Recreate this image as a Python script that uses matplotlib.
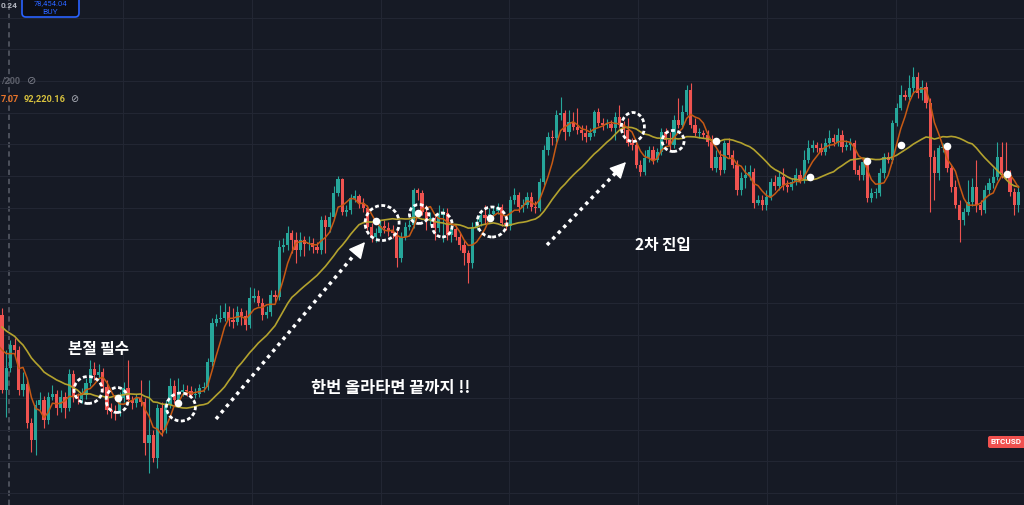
import matplotlib
matplotlib.use('Agg')
import matplotlib.pyplot as plt
from matplotlib.patches import Ellipse, FancyBboxPatch
from matplotlib.transforms import IdentityTransform
import numpy as np
import pandas as pd

# closes before the first visible candle (only used to warm up the moving averages)
history_close = [710, 708, 705, 702, 698, 700, 695, 690, 685, 682,
                 660, 655, 645, 640, 635, 650, 655, 650, 685]

close = [610, 632, 655, 650, 610, 616, 577, 560, 595, 600,
         580, 603, 606, 592, 603, 592, 626, 603, 601, 605,
         617, 631, 625, 628, 613, 590, 588, 587, 602, 612,
         600, 597, 602, 598, 557, 565, 542, 592, 570, 595,
         614, 600, 608, 610, 609, 605, 606, 612, 613, 638,
         677, 681, 682, 688, 680, 678, 688, 684, 675, 702,
         704, 697, 685, 688, 705, 703, 753, 755, 767, 760,
         750, 760, 756, 757, 753, 750, 780, 773, 783, 807,
         821, 788, 790, 802, 804, 797, 792, 773, 763, 767,
         774, 772, 769, 767, 742, 763, 773, 775, 810, 807,
         788, 780, 782, 772, 785, 787, 765, 771, 763, 755,
         747, 737, 773, 778, 785, 782, 786, 789, 793, 777,
         774, 800, 805, 793, 795, 803, 793, 792, 818, 850,
         863, 862, 885, 887, 868, 878, 873, 870, 867, 863,
         867, 888, 877, 875, 876, 872, 883, 875, 870, 857,
         855, 835, 828, 842, 850, 840, 848, 868, 860, 855,
         880, 875, 888, 910, 875, 867, 867, 865, 858, 832,
         843, 830, 857, 845, 835, 810, 822, 825, 828, 797,
         800, 795, 803, 818, 814, 823, 815, 813, 818, 825,
         820, 840, 852, 855, 852, 848, 857, 862, 858, 865,
         853, 855, 857, 830, 825, 838, 802, 807, 807, 827,
         843, 840, 877, 892, 905, 903, 912, 923, 907, 913,
         897, 843, 827, 852, 852, 832, 813, 795, 780, 788,
         798, 813, 795, 790, 810, 817, 823, 843, 827, 825,
         808, 795, 808]

high = [692, 650, 660, 662, 654, 628, 622, 582, 600, 608,
        604, 608, 615, 610, 610, 608, 631, 630, 607, 612,
        622, 640, 638, 636, 632, 620, 597, 595, 608, 618,
        640, 604, 606, 620, 602, 620, 570, 596, 598, 600,
        622, 620, 622, 616, 615, 614, 612, 616, 618, 642,
        682, 686, 695, 697, 694, 692, 694, 692, 690, 713,
        712, 710, 702, 694, 710, 710, 760, 762, 774, 770,
        768, 768, 764, 764, 762, 758, 784, 785, 788, 814,
        824, 822, 795, 806, 810, 806, 802, 795, 777, 772,
        780, 780, 778, 775, 770, 768, 778, 780, 812, 812,
        810, 795, 788, 786, 795, 792, 792, 778, 775, 768,
        760, 750, 778, 782, 790, 795, 792, 794, 797, 796,
        782, 804, 812, 808, 801, 808, 808, 799, 822, 855,
        868, 870, 890, 903, 890, 890, 888, 892, 875, 875,
        872, 890, 892, 882, 881, 880, 888, 895, 879, 882,
        862, 860, 840, 850, 854, 854, 852, 872, 872, 868,
        885, 902, 895, 915, 917, 882, 872, 870, 870, 865,
        850, 850, 860, 862, 850, 840, 828, 835, 835, 832,
        805, 805, 810, 822, 825, 828, 832, 820, 822, 832,
        830, 850, 860, 860, 858, 857, 862, 870, 866, 872,
        870, 860, 862, 860, 835, 842, 842, 812, 812, 832,
        847, 848, 880, 897, 915, 910, 925, 933, 928, 920,
        918, 902, 850, 855, 857, 855, 835, 820, 800, 792,
        820, 822, 840, 800, 815, 822, 832, 858, 858, 858,
        830, 812, 815]

low = [607, 583, 628, 644, 605, 604, 572, 548, 545, 590,
       572, 576, 600, 585, 588, 582, 589, 598, 596, 597,
       601, 614, 620, 621, 608, 586, 582, 580, 584, 598,
       596, 591, 593, 594, 545, 527, 538, 532, 564, 567,
       592, 597, 598, 604, 604, 602, 602, 603, 608, 610,
       634, 674, 678, 679, 674, 672, 675, 675, 670, 672,
       698, 694, 680, 682, 684, 698, 700, 748, 750, 747,
       737, 744, 744, 750, 747, 747, 746, 747, 768, 780,
       804, 785, 784, 786, 798, 792, 788, 770, 758, 758,
       764, 767, 764, 762, 733, 738, 760, 770, 772, 800,
       785, 770, 775, 760, 768, 758, 760, 758, 760, 750,
       735, 717, 732, 770, 774, 776, 778, 782, 786, 774,
       770, 770, 796, 788, 788, 792, 789, 787, 789, 815,
       845, 855, 858, 880, 860, 864, 870, 866, 860, 858,
       860, 864, 874, 870, 872, 869, 860, 872, 865, 854,
       850, 832, 824, 825, 838, 836, 838, 845, 857, 850,
       852, 872, 872, 885, 872, 864, 862, 862, 854, 830,
       828, 825, 827, 842, 832, 805, 805, 812, 820, 792,
       795, 790, 790, 800, 810, 810, 810, 808, 810, 815,
       817, 817, 837, 848, 848, 845, 845, 852, 854, 854,
       848, 850, 850, 826, 820, 820, 798, 798, 802, 804,
       822, 837, 837, 874, 890, 900, 900, 908, 902, 900,
       892, 788, 800, 820, 848, 828, 808, 792, 758, 775,
       785, 794, 788, 785, 787, 805, 812, 820, 822, 820,
       804, 785, 788]

BG = '#161a25'
UP = '#26a69a'
DOWN = '#ef5350'
KR = ['Noto Sans CJK KR', 'DejaVu Sans']

n = len(close)
x = np.arange(n)
c = np.array(close, dtype=float)
o = np.concatenate([[history_close[-1]], c[:-1]])
h = np.array(high, dtype=float)
l = np.array(low, dtype=float)
up = c >= o
colors = np.where(up, UP, DOWN)

allc = pd.Series(history_close + close, dtype=float)
xa = np.arange(-len(history_close), n)
ma_fast = allc.rolling(5).mean()
ma_slow = allc.rolling(20).mean()

fig = plt.figure(figsize=(10.24, 5.05), dpi=100)
fig.patch.set_facecolor(BG)
ax = fig.add_axes([0, 0, 1, 1])
ax.set_facecolor(BG)

# grid
ax.set_yticks(np.arange(506.9, 1000, 31.7))
ax.set_xticks(28.81 + 30.67 * np.arange(8))
ax.grid(True, color='#222633', lw=0.8)
ax.tick_params(length=0, labelleft=False, labelbottom=False)
for s in ax.spines.values():
    s.set_visible(False)
ax.axvline(1.67, color='#5b5e69', lw=1.1, ls=(0, (3.5, 2.5)), zorder=1)

# candles
ax.vlines(x, l, h, colors=colors, lw=0.8, zorder=2)
body = np.where(np.abs(c - o) < 1, 1, c - o)
ax.bar(x, body, bottom=o, width=0.8, color=colors, lw=0, zorder=2)

# moving averages
ax.plot(xa, ma_slow, color='#b3a22e', lw=1.2, zorder=3)
ax.plot(xa, ma_fast, color='#c75a14', lw=1.1, zorder=3)

ax.set_xlim(-0.476, 243.33)
ax.set_ylim(495, 1000)

# dashed circles
for cx, cy, w, hh in [(20.5, 610, 6.7, 27), (27.4, 600, 5.2, 25), (42.6, 593, 6.9, 28),
                      (90.5, 777, 8.1, 35), (99.3, 786, 4.6, 19), (104.8, 775, 4.8, 24),
                      (116.7, 778, 7.1, 30), (150.2, 873, 5.5, 29), (159.8, 859, 5.2, 21)]:
    ax.add_patch(Ellipse((cx, cy), w, hh, fill=False, ec='white', lw=2.0,
                         ls=(0, (1.4, 0.9)), zorder=4))

# white dots
dots_x = [27.6, 41.9, 89.0, 99.0, 116.2, 170.0, 192.4, 206.0, 214.0, 225.0, 239.3]
dots_y = [602, 597, 779, 787, 782, 859, 823, 839, 855, 854, 826]
ax.scatter(dots_x, dots_y, s=30, color='white', lw=0, zorder=5)

# dotted arrows
for tail, base, tip in [((50.95, 581), (84.6, 748.8), (86.43, 758)),
                        ((129.76, 755), (146.6, 829.3), (148.57, 838))]:
    ax.plot([tail[0], base[0]], [tail[1], base[1]], color='white', lw=2.5,
            ls=(0, (1, 1.3)), dash_capstyle='butt', zorder=4)
    ax.annotate('', xy=tip, xytext=base,
                arrowprops=dict(arrowstyle='-|>,head_length=1.0,head_width=0.5',
                                color='white', lw=1, shrinkA=0, shrinkB=0,
                                mutation_scale=10), zorder=4)

# annotations
ax.text(22.9, 651, '본절 필수', color='white', fontsize=11.3, fontweight='bold',
        family=KR, ha='center', va='center', zorder=6)
ax.text(92.6, 612, '한번 올라타면 끝까지 !!', color='white', fontsize=11.8, fontweight='bold',
        family=KR, ha='center', va='center', zorder=6)
ax.text(157.4, 755, '2차 진입', color='white', fontsize=11.3, fontweight='bold',
        family=KR, ha='center', va='center', zorder=6)


def fx(px):
    return px / 1024


def fy(py):
    return 1 - py / 505


# top-left chart UI
fig.text(fx(1), fy(5), '0.24', color='#b2b5be', fontsize=6, family='Roboto',
         fontweight='bold', ha='left', va='center')
fig.add_artist(FancyBboxPatch((22, 488), 57, 26, boxstyle='round,pad=0,rounding_size=4',
                              transform=IdentityTransform(), fc='#0c0e15', ec='#2962ff', lw=1.2))
fig.text(fx(50.5), fy(0.3), '78,454.04', color='#2962ff', fontsize=5.5, family='Roboto',
         ha='center', va='top')
fig.text(fx(50.5), fy(12), 'BUY', color='#2962ff', fontsize=6, family='Roboto',
         ha='center', va='center')
fig.text(fx(1), fy(81), '/200', color='#5d606b', fontsize=6.6, family='Roboto',
         fontweight='bold', ha='left', va='center')
fig.text(fx(32), fy(81), '⊘', color='#787b86', fontsize=8, family='DejaVu Sans',
         ha='center', va='center')
fig.text(fx(1), fy(99), '7.07', color='#e8742a', fontsize=6.6, family='Roboto',
         fontweight='bold', ha='left', va='center')
fig.text(fx(24), fy(99), '92,220.16', color='#d8c23e', fontsize=6.6, family='Roboto',
         fontweight='bold', ha='left', va='center')
fig.text(fx(74), fy(99), '⊘', color='#b2b5be', fontsize=7, family='DejaVu Sans',
         ha='center', va='center')

# symbol label on the right
fig.add_artist(FancyBboxPatch((988, 57), 40, 12, boxstyle='round,pad=0,rounding_size=2',
                              transform=IdentityTransform(), fc='#f0514f', ec='none'))
fig.text(fx(1006), fy(442), 'BTCUSD', color='white', fontsize=5.8, family='Roboto',
         fontweight='bold', ha='center', va='center')

fig.savefig('out.png', dpi=100, facecolor=BG)
